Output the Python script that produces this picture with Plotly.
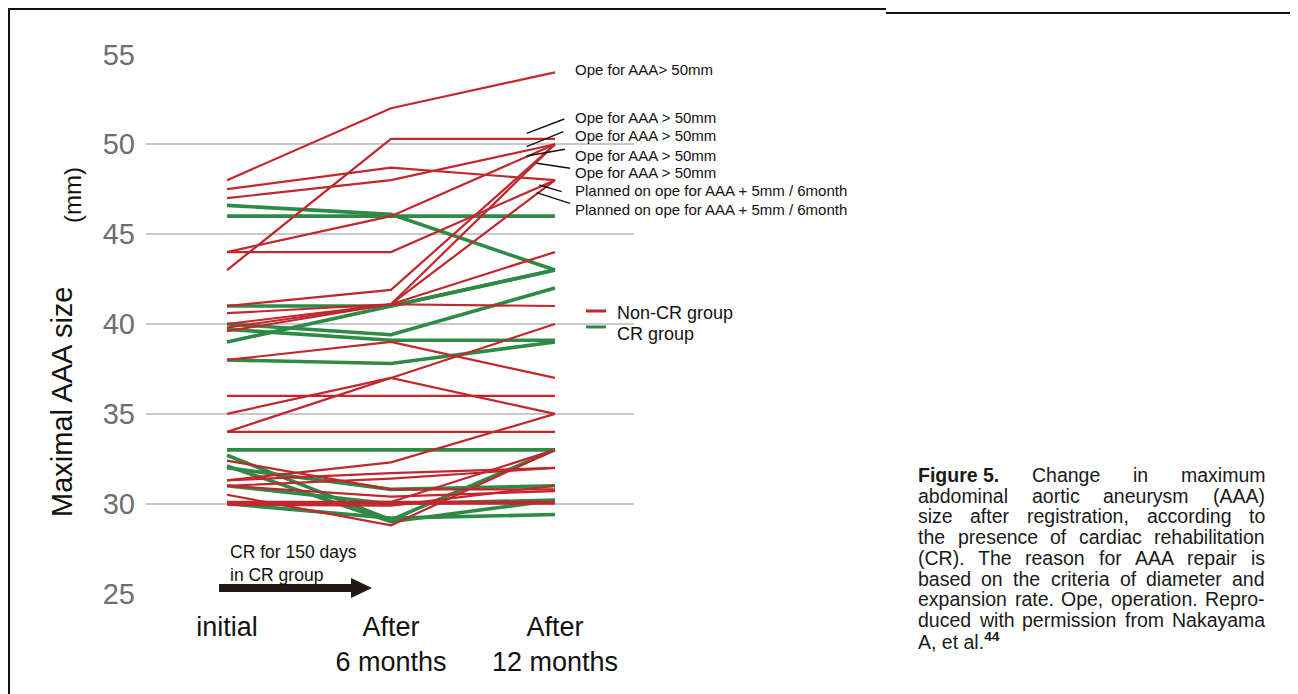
import plotly.graph_objects as go

# ---------------- data ----------------
timepoints = [0, 1, 2]
tick_labels = ["initial", "After<br>6 months", "After<br>12 months"]
y_ticks = [25, 30, 35, 40, 45, 50, 55]

red_initial = [48, 47.5, 47, 43, 44, 44, 41, 40.6, 40.0, 39.8, 39.6, 38, 36, 35, 34, 34,
               31.3, 32.4, 31.3, 31.0, 31.0, 30.5, 30.0, 30.1, 30.0, 29.95]
red_6m = [52, 48.7, 48, 50.3, 46, 44, 41.9, 41.1, 41.1, 41.1, 41.1, 39, 36, 37, 37, 34,
          32.3, 30.8, 31.7, 31.4, 30.4, 28.8, 30.0, 30.1, 30.1, 29.9]
red_12m = [54, 48, 50, 50.3, 50, 48, 50, 50, 48, 44, 41, 37, 36, 40, 35, 34,
           35, 30.8, 32, 32, 30.7, 33, 30, 30.1, 33, 31]

green_initial = [46.6, 46, 41, 39, 40, 39.7, 38, 33, 32.7, 32.1, 32.0, 31.0, 30.0]
green_6m = [46.1, 46, 41, 41, 39.4, 39.1, 37.8, 33, 29.1, 29.0, 30.8, 30.0, 29.2]
green_12m = [43, 46, 43, 43, 42, 39.1, 39.0, 33, 33, 30.2, 31.0, 30.2, 29.4]

ope_labels = ["Ope for AAA> 50mm", "Ope for AAA > 50mm", "Ope for AAA > 50mm",
              "Ope for AAA > 50mm", "Ope for AAA > 50mm",
              "Planned on ope for AAA + 5mm / 6month",
              "Planned on ope for AAA + 5mm / 6month"]

caption_lines = [
    ["<b>Figure 5.</b>", "Change", "in", "maximum"],
    ["abdominal", "aortic", "aneurysm", "(AAA)"],
    ["size", "after", "registration,", "according", "to"],
    ["the", "presence", "of", "cardiac", "rehabilitation"],
    ["(CR).", "The", "reason", "for", "AAA", "repair", "is"],
    ["based", "on", "the", "criteria", "of", "diameter", "and"],
    ["expansion", "rate.", "Ope,", "operation.", "Repro-"],
    ["duced", "with", "permission", "from", "Nakayama"],
]
caption_last = "A, et al.<sup><b>44</b></sup>"

RED = "#c1272d"
GREEN = "#2e8b47"

# ---------------- geometry helpers (page pixels; page body has an 8px margin) ----------------
OFF = 8
W, H = 1298 - OFF, 694 - OFF
L, T, PW, PH = 146, 54, 488, 540   # plot area in page pixels


def PX(x):
    return (x - L) / PW


def PY(y):
    return (T + PH - y) / PH


fig = go.Figure()

for a, b, c in zip(green_initial, green_6m, green_12m):
    fig.add_trace(go.Scatter(x=timepoints, y=[a, b, c], mode="lines",
                             line=dict(color=GREEN, width=3.6), showlegend=False,
                             hoverinfo="skip"))
for a, b, c in zip(red_initial, red_6m, red_12m):
    fig.add_trace(go.Scatter(x=timepoints, y=[a, b, c], mode="lines",
                             line=dict(color=RED, width=2.2), showlegend=False,
                             hoverinfo="skip"))

annotations = []
shapes = []

# labels on the right
label_y = [69, 118, 135, 155, 172, 191, 210]
for txt, yy in zip(ope_labels, label_y):
    annotations.append(dict(text=txt, xref="paper", yref="paper", x=PX(573), y=PY(yy),
                            xanchor="left", yanchor="middle", showarrow=False,
                            font=dict(family="Liberation Sans, Arial", size=15, color="#111")))
leaders = [((526.7, 133.3), (564.3, 119)), ((526.7, 146.7), (563.3, 131.7)),
           ((526.7, 156), (565, 149.3)), ((536.7, 163.3), (570, 168.3)),
           ((539.3, 185), (561.7, 191.7)), ((536.7, 192.7), (570, 203.3))]
for (x0, y0), (x1, y1) in leaders:
    shapes.append(dict(type="line", xref="paper", yref="paper", x0=PX(x0), y0=PY(y0),
                       x1=PX(x1), y1=PY(y1), line=dict(color="#111", width=1.4)))

# legend
for yy, col, txt, ty in [(311, RED, "Non-CR group", 313), (327, GREEN, "CR group", 334)]:
    shapes.append(dict(type="line", xref="paper", yref="paper", x0=PX(586), x1=PX(606),
                       y0=PY(yy), y1=PY(yy), line=dict(color=col, width=3)))
    annotations.append(dict(text=txt, xref="paper", yref="paper", x=PX(615), y=PY(ty),
                            xanchor="left", yanchor="middle", showarrow=False,
                            font=dict(family="Liberation Sans, Arial", size=18, color="#111")))

# CR arrow
ARROW = "#231815"
shapes.append(dict(type="rect", xref="paper", yref="paper", x0=PX(219), x1=PX(355),
                   y0=PY(584), y1=PY(592), fillcolor=ARROW, line=dict(width=0)))
shapes.append(dict(type="path", xref="paper", yref="paper",
                   path=f"M {PX(351)} {PY(578)} L {PX(372)} {PY(588)} L {PX(351)} {PY(598)} Z",
                   fillcolor=ARROW, line=dict(width=0)))
for txt, yy in [("CR for 150 days", 552), ("in CR group", 575)]:
    annotations.append(dict(text=txt, xref="paper", yref="paper", x=PX(228), y=PY(yy),
                            xanchor="left", yanchor="middle", showarrow=False,
                            font=dict(family="Liberation Sans, Arial", size=17.5, color="#111")))

# y-axis title (two parts)
annotations.append(dict(text="Maximal AAA size", xref="paper", yref="paper", x=PX(62), y=PY(402),
                        xanchor="center", yanchor="middle", textangle=-90, showarrow=False,
                        font=dict(family="Liberation Sans, Arial", size=29, color="#111")))
annotations.append(dict(text="(mm)", xref="paper", yref="paper", x=PX(73), y=PY(195),
                        xanchor="center", yanchor="middle", textangle=-90, showarrow=False,
                        font=dict(family="Liberation Sans, Arial", size=24, color="#111")))

# caption, justified word by word using Arial metrics
REG = {' ': 278, '.': 278, ',': 278, '-': 333, '(': 333, ')': 333, '/': 278, '+': 584, '>': 584}
for ch in "0123456789":
    REG[ch] = 556
lower = dict(a=556, b=556, c=500, d=556, e=556, f=278, g=556, h=556, i=222, j=222, k=500, l=222,
             m=833, n=556, o=556, p=556, q=556, r=333, s=500, t=278, u=556, v=500, w=722, x=500,
             y=500, z=500)
upper = dict(A=667, B=667, C=722, D=722, E=667, F=611, G=778, H=722, I=278, J=500, K=667, L=556,
             M=833, N=722, O=778, P=667, Q=778, R=722, S=667, T=611, U=722, V=667, W=944, X=667,
             Y=667, Z=611)
REG.update(lower)
REG.update(upper)
BOLD = {'F': 611, 'i': 278, 'g': 611, 'u': 611, 'r': 389, 'e': 556, ' ': 278, '5': 556, '.': 278}

CAP_SIZE = 19.5
CAP_X0, CAP_X1 = 918, 1265
CAP_Y0, CAP_DY = 475, 20.7


def word_width(w):
    if w.startswith("<b>"):
        s = w[3:-4]
        return sum(BOLD.get(ch, 556) for ch in s) * CAP_SIZE / 1000
    return sum(REG.get(ch, 556) for ch in w) * CAP_SIZE / 1000


cap_font = dict(family="Liberation Sans, Arial", size=CAP_SIZE, color="#1a1a1a")
for i, words in enumerate(caption_lines):
    widths = [word_width(w) for w in words]
    gap = (CAP_X1 - CAP_X0 - sum(widths)) / (len(words) - 1)
    xpos = CAP_X0
    yy = CAP_Y0 + i * CAP_DY
    for w, wd in zip(words, widths):
        annotations.append(dict(text=w, xref="paper", yref="paper", x=PX(xpos), y=PY(yy),
                                xanchor="left", yanchor="middle", showarrow=False,
                                borderpad=0, borderwidth=0, font=cap_font))
        xpos += wd + gap
annotations.append(dict(text=caption_last, xref="paper", yref="paper", x=PX(CAP_X0),
                        y=PY(CAP_Y0 + len(caption_lines) * CAP_DY), xanchor="left",
                        yanchor="middle", showarrow=False, borderpad=0, borderwidth=0,
                        font=cap_font))

# frame
FR = "#111"
shapes += [
    dict(type="line", xref="paper", yref="paper", x0=PX(9), x1=PX(9), y0=PY(8), y1=PY(700),
         line=dict(color=FR, width=2)),
    dict(type="line", xref="paper", yref="paper", x0=PX(8), x1=PX(886), y0=PY(9), y1=PY(9),
         line=dict(color=FR, width=2)),
    dict(type="line", xref="paper", yref="paper", x0=PX(886), x1=PX(1291), y0=PY(13), y1=PY(13),
         line=dict(color=FR, width=2)),
    dict(type="line", xref="paper", yref="paper", x0=PX(1291), x1=PX(1291), y0=PY(13), y1=PY(700),
         line=dict(color=FR, width=2)),
]

fig.update_layout(
    width=W, height=H,
    margin=dict(l=L - OFF, r=W - (L - OFF) - PW, t=T - OFF, b=H - (T - OFF) - PH),
    paper_bgcolor="white", plot_bgcolor="white",
    showlegend=False,
    xaxis=dict(range=[-0.494, 2.482], tickvals=timepoints, ticktext=tick_labels,
               showgrid=False, zeroline=False, showline=False, ticks="",
               ticklabelstandoff=14,
               tickfont=dict(family="Liberation Sans, Arial", size=27, color="#111")),
    yaxis=dict(range=[24.98, 55.02], tickvals=y_ticks, showgrid=True, gridcolor="#c8c8c8",
               gridwidth=1.6, zeroline=False, showline=False, ticks="",
               ticklabelstandoff=10,
               tickfont=dict(family="Liberation Sans, Arial", size=29, color="#6e6e6e")),
    annotations=annotations,
    shapes=shapes,
)

fig.write_html("out.html")
